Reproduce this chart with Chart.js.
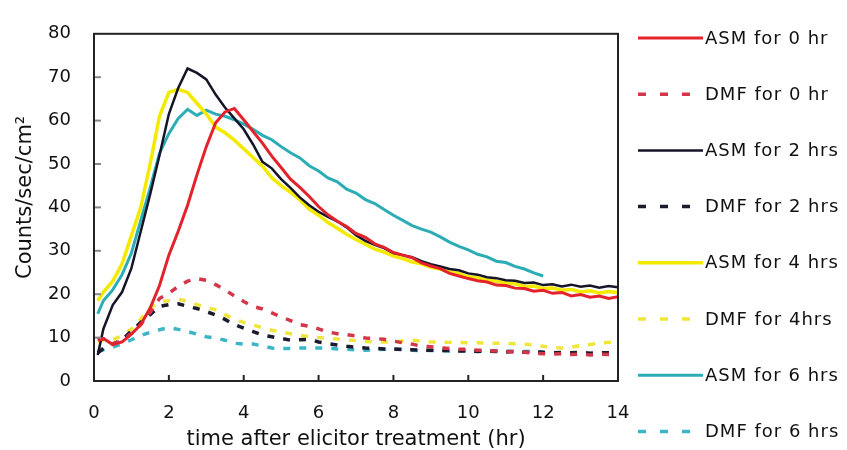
<!DOCTYPE html>
<html>
<head>
<meta charset="utf-8">
<title>Counts/sec/cm2 after elicitor treatment</title>
<script src="https://cdn.jsdelivr.net/npm/chart.js@4.4.0/dist/chart.umd.min.js"></script>
<style>
    html, body { margin: 0; padding: 0; background: #fff; }
</style>
</head>
<body>
<canvas id="chart" width="847" height="450"></canvas>
<script>
'use strict';

// time after elicitor treatment (hr)
var hours = [0.1, 0.25, 0.5, 0.75, 1, 1.25, 1.5, 1.75, 2, 2.25, 2.5, 2.75, 3, 3.25, 3.5, 3.75,
    4, 4.25, 4.5, 4.75, 5, 5.25, 5.5, 5.75, 6, 6.25, 6.5, 6.75, 7, 7.25, 7.5, 7.75,
    8, 8.25, 8.5, 8.75, 9, 9.25, 9.5, 9.75, 10, 10.25, 10.5, 10.75, 11, 11.25, 11.5, 11.75,
    12, 12.25, 12.5, 12.75, 13, 13.25, 13.5, 13.75, 14];

var seriesLabels = ["ASM for 0 hr", "DMF for 0 hr", "ASM for 2 hrs", "DMF for 2 hrs",
    "ASM for 4 hrs", "DMF for 4hrs", "ASM for 6 hrs", "DMF for 6 hrs"];

var asm0 = [9.5, 9.8, 8.4, 9.0, 10.8, 13.0, 16.8, 22.0, 29.0, 34.5, 40.5, 47.5, 54.0, 59.5, 62.0, 62.8,
    60.2, 57.5, 54.8, 51.8, 49.2, 46.5, 44.6, 42.5, 40.2, 38.3, 36.8, 35.6, 34.0, 33.1, 31.6, 30.8,
    29.6, 29.0, 28.4, 27.2, 26.5, 25.9, 24.8, 24.2, 23.6, 23.1, 22.8, 22.1, 22.0, 21.4, 21.3, 20.7,
    20.9, 20.2, 20.4, 19.6, 19.9, 19.3, 19.6, 19.0, 19.4];
var dmf0 = [9.5, 9.7, 8.6, 9.2, 11.0, 13.0, 15.8, 19.0, 20.2, 21.8, 23.0, 23.6, 23.2, 22.2, 21.0, 19.6,
    18.3, 17.2, 16.6, 15.7, 14.8, 13.9, 13.0, 12.6, 12.0, 11.3, 10.9, 10.7, 10.4, 9.9, 9.8, 9.6,
    9.2, 8.8, 8.5, 8.0, 7.9, 7.6, 7.5, 7.3, 7.3, 7.1, 7.0, 6.9, 6.8, 6.7, 6.6, 6.4,
    6.3, 6.2, 6.3, 6.1, 6.2, 6.0, 6.2, 6.1, 6.2];
var asm2 = [6.0, 12.0, 17.5, 20.5, 26.0, 34.5, 43.0, 52.0, 61.5, 67.5, 72.0, 71.0, 69.5, 66.0, 63.0, 60.5,
    58.0, 54.5, 50.5, 49.0, 46.5, 44.5, 42.3, 40.5, 39.0, 37.8, 36.8, 35.4, 33.6, 32.3, 31.4, 30.6,
    29.5, 29.0, 28.5, 27.6, 26.9, 26.4, 25.8, 25.5, 24.8, 24.5, 23.9, 23.7, 23.2, 23.1, 22.6, 22.7,
    22.1, 22.3, 21.8, 22.2, 21.7, 22.0, 21.5, 21.9, 21.6];
var dmf2 = [6.5, 7.5, 8.5, 9.5, 11.5, 13.5, 15.3, 17.2, 17.6, 17.8, 17.2, 16.7, 16.0, 15.2, 14.2, 13.0,
    12.2, 11.4, 10.6, 10.2, 9.8, 9.4, 9.5, 9.6, 9.0, 8.6, 8.3, 8.0, 7.8, 7.6, 7.5, 7.4,
    7.4, 7.2, 7.2, 7.1, 7.1, 7.0, 7.0, 6.9, 6.9, 6.8, 6.9, 6.8, 6.7, 6.8, 6.6, 6.7,
    6.6, 6.5, 6.6, 6.5, 6.6, 6.4, 6.5, 6.5, 6.4];
var asm4 = [18.5, 20.5, 23.0, 27.0, 33.5, 40.0, 50.0, 61.0, 66.5, 67.2, 66.5, 64.0, 61.5, 58.5, 57.2, 55.5,
    53.5, 51.5, 49.5, 46.8, 45.0, 43.5, 41.7, 39.6, 38.2, 36.5, 35.2, 33.8, 32.6, 31.5, 30.4, 29.7,
    28.8, 28.2, 27.4, 27.0, 26.2, 25.8, 25.1, 24.8, 24.0, 23.8, 23.2, 23.0, 22.6, 22.4, 21.8, 21.9,
    21.3, 21.4, 20.9, 21.1, 20.5, 20.8, 20.3, 20.6, 20.4];
var dmf4 = [9.0, 9.5, 9.5, 10.5, 12.0, 14.3, 16.8, 18.3, 18.5, 18.8, 18.4, 17.6, 17.0, 16.4, 15.3, 14.2,
    13.5, 12.9, 12.3, 11.7, 11.3, 10.9, 10.5, 10.2, 10.0, 9.8, 9.7, 9.5, 9.3, 9.1, 9.0, 9.0,
    9.0, 9.2, 9.4, 9.2, 9.0, 9.0, 8.9, 8.9, 8.8, 8.8, 8.7, 8.7, 8.7, 8.6, 8.5, 8.3,
    8.0, 7.7, 7.6, 7.8, 8.2, 8.4, 8.7, 8.9, 9.1];
var asm6 = [15.5, 18.5, 21.0, 24.5, 29.5, 37.0, 44.5, 52.5, 57.0, 60.5, 62.6, 61.2, 62.4, 61.5, 61.0, 60.2,
    59.2, 58.0, 56.6, 55.6, 54.0, 52.6, 51.4, 49.6, 48.4, 46.8, 45.9, 44.2, 43.3, 41.8, 40.9, 39.5,
    38.2, 37.0, 35.8, 35.0, 34.3, 33.2, 32.0, 31.0, 30.2, 29.2, 28.6, 27.6, 27.3, 26.4, 25.8, 24.9,
    24.2, null, null, null, null, null, null, null, null];
var dmf6 = [6.8, 7.2, 7.8, 8.6, 9.5, 10.5, 11.2, 11.8, 12.3, 11.9, 11.4, 10.8, 10.2, 9.9, 9.4, 8.7,
    8.5, 8.5, 8.1, 7.6, 7.5, 7.5, 7.6, 7.6, 7.6, 7.6, 7.4, 7.3, 7.2, 7.1, 7.2, 7.3,
    7.3, 7.3, 7.1, 7.0, 7.0, 7.0, 6.9, 6.9, 7.0, 6.9, 6.9, 6.9, 6.9, 6.8, 6.8, 6.8,
    6.7, null, null, null, null, null, null, null, null];

var seriesValues = [asm0, dmf0, asm2, dmf2, asm4, dmf4, asm6, dmf6];
var seriesColors = ["#e4222c", "#d23648", "#15152a", "#1b1b2e", "#f4ea00", "#efe63a", "#2cadb6", "#3cb6c6"];
var seriesWidths = [3, 3.5, 2.5, 3.5, 3.5, 3.5, 3, 3.5];

var FONT = '"DejaVu Sans", "Noto Sans", sans-serif';

/**
 * Pair the hours with one series' values.
 */
function toPoints(values) {
    var points = [];
    for (var i = 0; i < hours.length; i++) {
        points.push({x: hours[i], y: values[i]});
    }
    return points;
}

var datasets = [];
for (var i = 0; i < seriesValues.length; i++) {
    var dashed = (i % 2) === 1;
    datasets.push({
        label: seriesLabels[i],
        data: toPoints(seriesValues[i]),
        borderColor: seriesColors[i],
        backgroundColor: seriesColors[i],
        borderWidth: seriesWidths[i],
        borderDash: dashed ? [7, 9] : [],
        pointRadius: 0,
        tension: 0,
        fill: false,
        spanGaps: false
    });
}

// Frame round the plot, inner tick marks, and the legend on the right.
var framePlugin = {
    id: 'frame',
    afterDraw: function(chart) {
        var ctx = chart.ctx;
        var a = chart.chartArea;
        var xs = chart.scales.x;
        var ys = chart.scales.y;

        ctx.save();
        ctx.setLineDash([]);

        // short ticks pointing into the plot
        ctx.lineWidth = 2;
        ctx.strokeStyle = '#888';
        for (var v = 10; v < 80; v += 10) {
            var py = ys.getPixelForValue(v);
            ctx.beginPath();
            ctx.moveTo(a.left, py);
            ctx.lineTo(a.left + 7, py);
            ctx.stroke();
        }
        ctx.strokeStyle = '#222';
        for (var h = 2; h < 14; h += 2) {
            var px = xs.getPixelForValue(h);
            ctx.beginPath();
            ctx.moveTo(px, a.bottom);
            ctx.lineTo(px, a.bottom - 6);
            ctx.stroke();
        }

        ctx.strokeStyle = '#222';
        ctx.lineWidth = 2;
        ctx.strokeRect(a.left, a.top, a.right - a.left, a.bottom - a.top);

        // legend
        var legendX = 638;
        var legendTop = 38;
        var legendStep = 56.2;
        chart.data.datasets.forEach(function(ds, i) {
            var y = legendTop + i * legendStep;
            ctx.strokeStyle = ds.borderColor;
            ctx.lineWidth = ds.borderWidth;
            ctx.setLineDash(ds.borderDash.length ? [8, 14] : []);
            ctx.beginPath();
            ctx.moveTo(legendX, y);
            ctx.lineTo(legendX + 65, y);
            ctx.stroke();
            ctx.setLineDash([]);

            ctx.fillStyle = '#111';
            ctx.font = '18px ' + FONT;
            ctx.textAlign = 'left';
            ctx.textBaseline = 'middle';
            ctx.letterSpacing = '1px';
            ctx.fillText(ds.label, legendX + 67, y + 1);
            ctx.letterSpacing = '0px';
        });

        ctx.restore();
    }
};

var ctx = document.getElementById('chart').getContext('2d');
var chart = new Chart(ctx, {
    type: 'line',
    data: { datasets: datasets },
    options: {
        responsive: false,
        animation: false,
        layout: {
            padding: { top: 22, right: 229, bottom: 0, left: 0 }
        },
        plugins: {
            legend: { display: false },
            tooltip: { enabled: false }
        },
        scales: {
            x: {
                type: 'linear',
                min: 0,
                max: 14,
                grid: { display: false, drawTicks: false },
                border: { display: false },
                ticks: {
                    stepSize: 2,
                    padding: 22,
                    color: '#111',
                    font: { family: FONT, size: 18 }
                },
                title: {
                    display: true,
                    text: 'time after elicitor treatment (hr)',
                    color: '#111',
                    padding: { top: 0, bottom: -2 },
                    font: { family: FONT, size: 21 }
                },
                afterFit: function(scale) { scale.height = 69; }
            },
            y: {
                min: 0,
                max: 80,
                grid: { display: false, drawTicks: false },
                border: { display: false },
                ticks: {
                    stepSize: 10,
                    padding: 23,
                    color: '#111',
                    font: { family: FONT, size: 18 }
                },
                title: {
                    display: true,
                    // leading spaces lift the text a little, as in the original
                    text: '   Counts/sec/cm\u00b2',
                    color: '#111',
                    padding: { top: 13, bottom: 0 },
                    font: { family: FONT, size: 21 }
                },
                afterFit: function(scale) { scale.width = 94; }
            }
        }
    },
    plugins: [framePlugin]
});
</script>
</body>
</html>
